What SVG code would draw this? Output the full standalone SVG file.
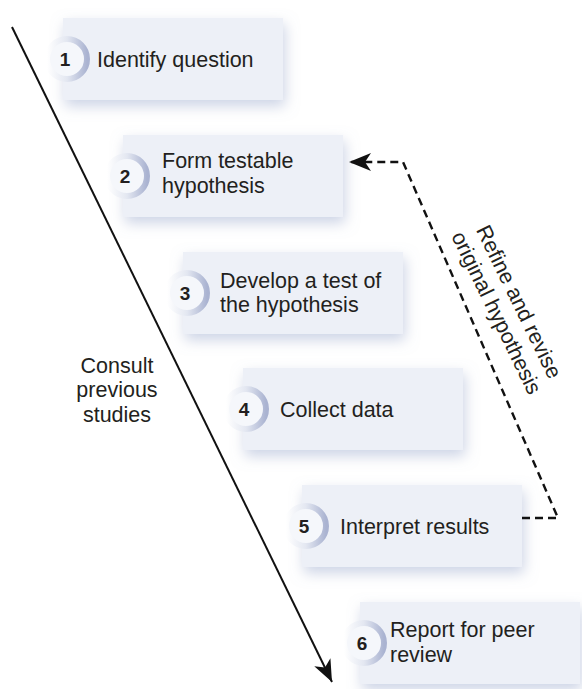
<svg xmlns="http://www.w3.org/2000/svg" width="582" height="689" viewBox="0 0 582 689">
<defs>
<style>
.box{fill:#edf0f7;filter:url(#sh)}
.lbl{font-family:"Liberation Sans",Arial,sans-serif;font-size:21.5px;fill:#231f20}
.num{font-family:"Liberation Sans",Arial,sans-serif;font-size:19px;font-weight:bold;fill:#231f20;text-anchor:middle}
.ring{fill:#f5f7fb;stroke:url(#rg);stroke-width:6}
.dash{fill:none;stroke:#111;stroke-width:2.4;stroke-dasharray:8 5}
</style>
<filter id="sh" x="-20%" y="-30%" width="140%" height="170%">
<feDropShadow dx="2" dy="6" stdDeviation="7" flood-color="#9aa8cc" flood-opacity="0.5"/>
</filter>
<linearGradient id="rg" x1="0" y1="0" x2="1" y2="0">
<stop offset="0" stop-color="#ffffff"/>
<stop offset="0.5" stop-color="#e3e7f1"/>
<stop offset="1" stop-color="#aab3d1"/>
</linearGradient>
<marker id="ah" markerUnits="userSpaceOnUse" markerWidth="26" markerHeight="22" viewBox="-24 -11 26 22" refX="0" refY="0" orient="auto">
<path d="M0,0 L-22,-9 L-16,0 L-22,9 Z" fill="#111"/>
</marker>
</defs>
<rect width="582" height="689" fill="#ffffff"/>

<g id="node1">
<rect class="box" x="63" y="18" width="220" height="82"/>
<circle class="ring" cx="67" cy="59" r="20"/>
<text class="num" x="65" y="66">1</text>
<text class="lbl" x="97" y="67">Identify question</text>
</g>
<g id="node2">
<rect class="box" x="123" y="135" width="220" height="82"/>
<circle class="ring" cx="127" cy="176" r="20"/>
<text class="num" x="125" y="183">2</text>
<text class="lbl" x="162" y="168">Form testable</text>
<text class="lbl" x="162" y="193">hypothesis</text>
</g>
<g id="node3">
<rect class="box" x="183" y="252" width="220" height="82"/>
<circle class="ring" cx="187" cy="293" r="20"/>
<text class="num" x="185" y="300">3</text>
<text class="lbl" x="220" y="288">Develop a test of</text>
<text class="lbl" x="220" y="312">the hypothesis</text>
</g>
<g id="node4">
<rect class="box" x="243" y="368" width="220" height="82"/>
<circle class="ring" cx="246" cy="409" r="20"/>
<text class="num" x="244" y="416">4</text>
<text class="lbl" x="280" y="417">Collect data</text>
</g>
<g id="node5">
<rect class="box" x="302" y="485" width="220" height="82"/>
<circle class="ring" cx="306" cy="526" r="20"/>
<text class="num" x="304" y="533">5</text>
<text class="lbl" x="340" y="534">Interpret results</text>
</g>
<g id="node6">
<rect class="box" x="360" y="602" width="220" height="82"/>
<circle class="ring" cx="364" cy="643" r="20"/>
<text class="num" x="362" y="650">6</text>
<text class="lbl" x="390" y="637">Report for peer</text>
<text class="lbl" x="390" y="662">review</text>
</g>

<g id="connectors">
<line x1="12" y1="27" x2="332" y2="682" stroke="#111" stroke-width="2" marker-end="url(#ah)"/>
<path class="dash" d="M522,518 H558 L403,162 H349" marker-end="url(#ah)"/>
</g>

<g id="labels">
<text class="lbl" text-anchor="middle"><tspan x="117" y="373">Consult</tspan><tspan x="117" y="397">previous</tspan><tspan x="117" y="422">studies</tspan></text>
<g transform="translate(490,316) rotate(64)">
<text class="lbl" text-anchor="middle"><tspan x="0" y="-25">Refine and revise</tspan><tspan x="0" y="0">original hypothesis</tspan></text>
</g>
</g>
</svg>
